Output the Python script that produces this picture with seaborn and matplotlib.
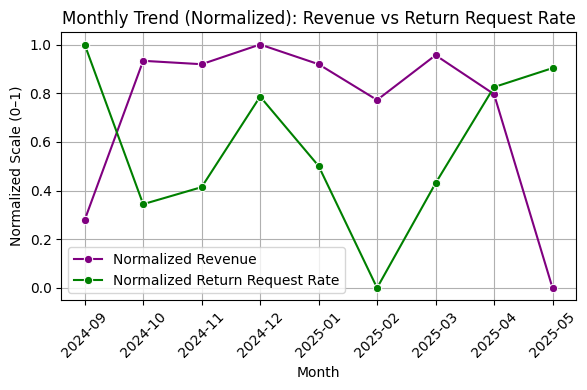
import matplotlib
matplotlib.use("Agg")
import matplotlib.pyplot as plt
import seaborn as sns
import pandas as pd

months = ["2024-09", "2024-10", "2024-11", "2024-12", "2025-01",
          "2025-02", "2025-03", "2025-04", "2025-05"]
norm_revenue = [0.279, 0.933, 0.919, 1.0, 0.919, 0.772, 0.956, 0.796, 0.0]
norm_return_rate = [1.0, 0.344, 0.414, 0.786, 0.501, 0.0, 0.430, 0.825, 0.903]

df = pd.DataFrame({
    "Month": months,
    "Revenue": norm_revenue,
    "ReturnRate": norm_return_rate,
})

fig, ax = plt.subplots(figsize=(6, 4), dpi=100)

sns.lineplot(data=df, x="Month", y="Revenue", marker="o", color="purple",
             label="Normalized Revenue", ax=ax)
sns.lineplot(data=df, x="Month", y="ReturnRate", marker="o", color="green",
             label="Normalized Return Request Rate", ax=ax)

ax.set_title("Monthly Trend (Normalized): Revenue vs Return Request Rate")
ax.set_xlabel("Month")
ax.set_ylabel("Normalized Scale (0–1)")
ax.tick_params(axis="x", rotation=45)
ax.grid(True)
ax.legend(loc="lower left")

plt.tight_layout()
plt.savefig("out.png", dpi=100, bbox_inches="tight")
plt.close()
